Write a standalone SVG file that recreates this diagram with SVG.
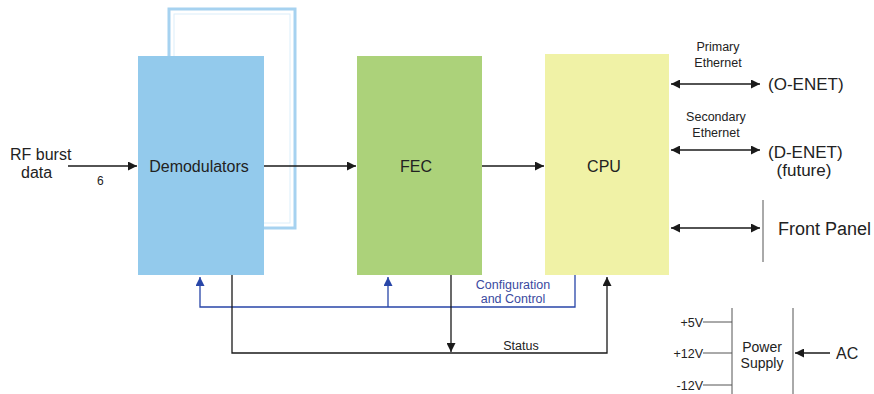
<svg xmlns="http://www.w3.org/2000/svg" width="874" height="394" viewBox="0 0 874 394">
<defs>
<marker id="ah" viewBox="0 0 10 10" refX="10" refY="5" markerWidth="12" markerHeight="9" markerUnits="userSpaceOnUse" orient="auto-start-reverse"><path d="M0,0 L10,5 L0,10 z" fill="#1a1a1a"/></marker>
<marker id="ahb" viewBox="0 0 10 10" refX="10" refY="5" markerWidth="12" markerHeight="9" markerUnits="userSpaceOnUse" orient="auto"><path d="M0,0 L10,5 L0,10 z" fill="#2846a8"/></marker>
</defs>
<style>
text{font-family:"Liberation Sans",Arial,sans-serif;fill:#222}
.lbl{font-size:16px}
.big{font-size:17px}
.sm{font-size:12.5px}
.ps{font-size:14px}
.blue{font-size:12.5px;fill:#3a4aa0}
.ln{stroke:#1a1a1a;stroke-width:1.3;fill:none}
.bl{stroke:#2846a8;stroke-width:1.3;fill:none}
.thin{stroke:#555;stroke-width:1;fill:none}
</style>
<rect width="874" height="394" fill="#fff"/>
<g id="demod-stack">
<rect x="169" y="9" width="126" height="219" fill="none" stroke="#a6d2f0" stroke-width="3"/>
<rect x="174" y="14" width="116" height="209" fill="none" stroke="#dbeefa" stroke-width="1"/>
</g>
<g id="demodulators">
<rect x="138" y="56" width="126" height="219" fill="#93caec"/>
<text class="lbl" x="199" y="172" text-anchor="middle">Demodulators</text>
</g>
<g id="fec">
<rect x="357" y="56" width="125" height="219" fill="#acd27a"/>
<text class="lbl" x="416" y="172" text-anchor="middle">FEC</text>
</g>
<g id="cpu">
<rect x="545" y="54" width="124" height="221" fill="#f0f2a6"/>
<text class="lbl" x="604" y="172" text-anchor="middle">CPU</text>
</g>
<g id="rf-input">
<text class="lbl" x="10" y="160">RF burst</text>
<text class="lbl" x="21" y="178">data</text>
<text font-size="12" x="97" y="185">6</text>
</g>
<g id="ethernet-labels">
<text class="sm" x="718" y="51" text-anchor="middle">Primary</text>
<text class="sm" x="718" y="67" text-anchor="middle">Ethernet</text>
<text class="big" x="768" y="90">(O-ENET)</text>
<text class="sm" x="716" y="121" text-anchor="middle">Secondary</text>
<text class="sm" x="716" y="137" text-anchor="middle">Ethernet</text>
<text class="big" x="768" y="158">(D-ENET)</text>
<text class="big" x="804" y="176" text-anchor="middle">(future)</text>
</g>
<g id="front-panel">
<line class="thin" x1="763" y1="200" x2="763" y2="262"/>
<text font-size="18" x="778" y="235">Front Panel</text>
</g>
<g id="power-supply">
<line class="thin" x1="732" y1="308" x2="732" y2="394"/>
<line class="thin" x1="793" y1="308" x2="793" y2="394"/>
<text class="ps" x="762" y="352" text-anchor="middle">Power</text>
<text class="ps" x="762" y="368" text-anchor="middle">Supply</text>
<text class="sm" x="703" y="327" text-anchor="end">+5V</text>
<text class="sm" x="703" y="358" text-anchor="end">+12V</text>
<text class="sm" x="703" y="390" text-anchor="end">-12V</text>
<text class="lbl" x="836" y="359">AC</text>
</g>
<g id="connectors">
<line class="ln" x1="68" y1="166" x2="137" y2="166" marker-end="url(#ah)"/>
<line class="ln" x1="264" y1="166" x2="356" y2="166" marker-end="url(#ah)"/>
<line class="ln" x1="482" y1="166" x2="544" y2="166" marker-end="url(#ah)"/>
<polyline class="bl" points="575,275 575,307 200,307 200,277" marker-end="url(#ahb)"/>
<line class="bl" x1="388" y1="307" x2="388" y2="277" marker-end="url(#ahb)"/>
<polyline class="ln" points="232,275 232,353 607,353 607,277" marker-end="url(#ah)"/>
<line class="ln" x1="451" y1="275" x2="451" y2="352" marker-end="url(#ah)"/>
<line class="ln" x1="671" y1="84" x2="760" y2="84" marker-start="url(#ah)" marker-end="url(#ah)"/>
<line class="ln" x1="671" y1="150" x2="760" y2="150" marker-start="url(#ah)" marker-end="url(#ah)"/>
<line class="ln" x1="671" y1="228" x2="760" y2="228" marker-start="url(#ah)" marker-end="url(#ah)"/>
<line class="thin" x1="703" y1="322" x2="732" y2="322"/>
<line class="thin" x1="703" y1="353" x2="732" y2="353"/>
<line class="thin" x1="703" y1="385" x2="732" y2="385"/>
<line class="ln" x1="830" y1="353" x2="795" y2="353" marker-end="url(#ah)"/>
<text class="blue" x="513" y="289" text-anchor="middle">Configuration</text>
<text class="blue" x="513" y="303" text-anchor="middle">and Control</text>
<text class="sm" x="521" y="350" text-anchor="middle">Status</text>
</g>
</svg>
